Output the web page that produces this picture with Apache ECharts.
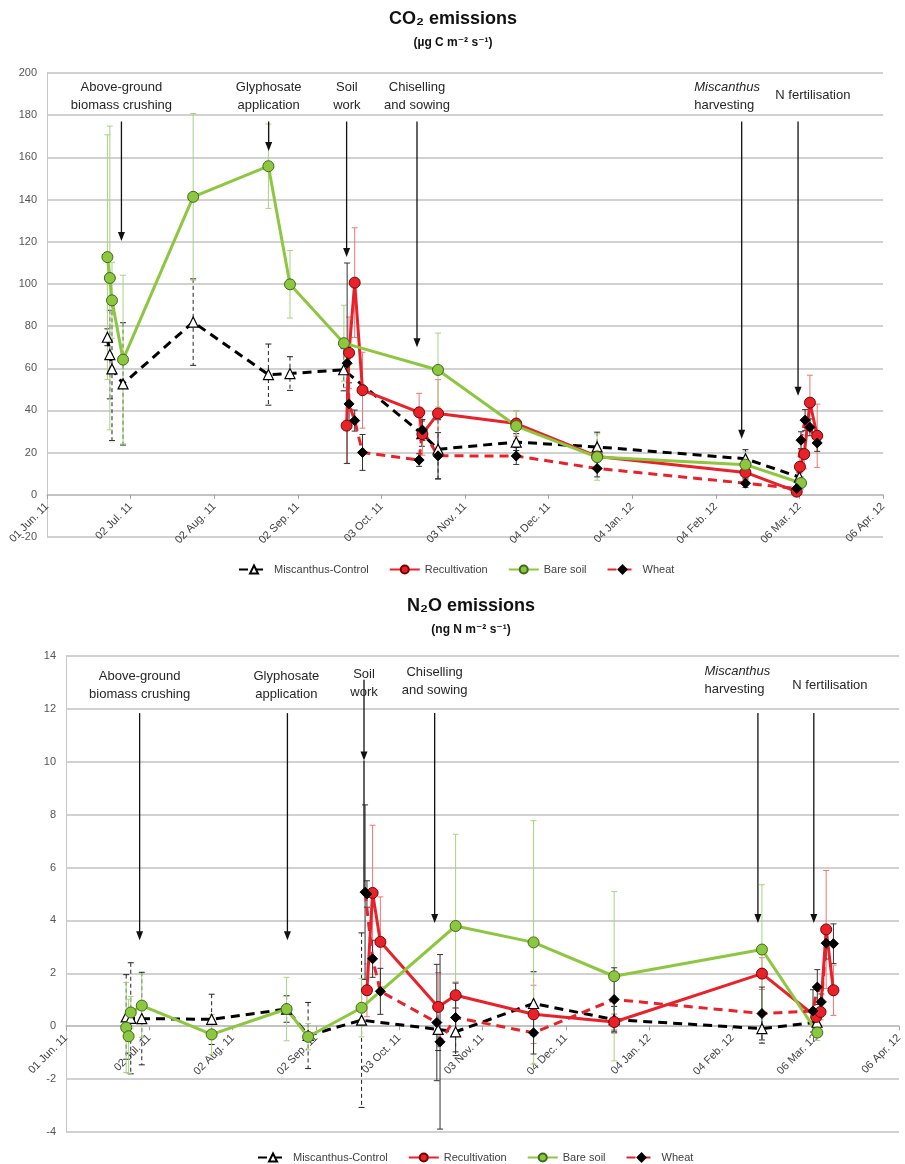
<!DOCTYPE html>
<html><head><meta charset="utf-8">
<script src="https://cdn.jsdelivr.net/npm/echarts@6/dist/echarts.min.js"></script>
<style>html,body{margin:0;padding:0;background:#fff}#c{width:905px;height:1164px}</style>
</head><body><div id="c"></div>
<script>
// x values: days counted from 01 Jun. 2011
const tickLabels = ['01 Jun. 11','02 Jul. 11','02 Aug. 11','02 Sep. 11','03 Oct. 11','03 Nov. 11','04 Dec. 11','04 Jan. 12','04 Feb. 12','06 Mar. 12','06 Apr. 12'];
const seriesNames = ['Miscanthus-Control','Recultivation','Bare soil','Wheat'];

// ---- CO2 emissions (µg C m-2 s-1) ----
const co2MiscDays = [22.4,23.3,24.1,28.2,54.2,82.1,90.1,110,139,145,174,204,259,279];
const co2MiscVals = [74.7,66.5,59.7,52.6,81.9,57.0,57.5,59.3,29,21.6,25,22.7,17.1,8.4];
const co2MiscErr  = [4,21,34,29,20.5,14.5,8,10,6,14,4,7,4.3,2];

const co2RecDays = [111.1,112,114.1,117,138,139.2,145,174,204,259,278,279.2,280.8,282.9,285.6];
const co2RecVals = [32.8,67.3,100.6,49.6,39.1,28.8,38.6,33.8,18.2,10.6,1.5,13.3,19.3,43.7,28];
const co2RecErr  = [18,17,26,18,9,10,16,6,5,3,1,5,7,13,15];

const co2BareDays = [22.4,23.3,24.1,28.2,54.2,82.1,90.1,110.1,145,174,204,259,279.6];
const co2BareVals = [112.7,102.8,92.2,64.1,141.3,155.8,99.8,71.9,59.2,32.6,17.9,14.3,5.6];
const co2BareErr  = [58,72,18,40,39.5,20,16,18,17.5,7,11,6,3];

const co2WheatDays = [111.3,112,114.1,117,138,139.2,145,174,204,259,278,279.6,281.1,282.9,285.6];
const co2WheatVals = [62.4,43.1,35.2,20.1,16.5,30.7,18.5,18.4,12.5,5.5,3.0,25.9,35.4,32,24.6];
const co2WheatErr  = [47.5,10,5,8.5,3,5,11,4,4,2,1,4,5,4,4];

// ---- N2O emissions (ng N m-2 s-1) ----
const n2oMiscDays = [22.4,24.1,28.2,54.2,82.1,90.1,110,138.5,145,174,204,259,279.5];
const n2oMiscVals = [0.35,0.3,0.29,0.26,0.65,-0.35,0.23,-0.12,-0.21,0.86,0.25,-0.09,0.15];
const n2oMiscErr  = [1.6,2.1,1.75,0.95,0.5,1.25,3.3,0.8,0.9,1.2,0.5,0.55,0.4];

const n2oRecDays = [112,114.1,117,138.5,145,174,204,259,279.2,280.8,282.9,285.6];
const n2oRecVals = [1.36,5.04,3.19,0.73,1.17,0.45,0.16,1.99,0.35,0.54,3.66,1.36];
const n2oRecErr  = [1.0,2.56,1.7,1.3,0.5,1.1,0.3,0.6,0.3,0.3,2.23,0.95];

const n2oBareDays = [22.4,23.3,24.1,28.2,54.2,82.1,90.1,110,145,174,204,259,279.6];
const n2oBareVals = [-0.05,-0.38,0.52,0.78,-0.31,0.65,-0.40,0.70,3.79,3.17,1.89,2.90,-0.24];
const n2oBareErr  = [1.7,1.4,0.6,1.2,0.75,1.2,0.5,1.1,3.47,4.6,3.2,2.45,0.3];

const n2oWheatDays = [111.3,112,114.1,117,138,139.2,145,174,204,259,278,279.6,281.1,282.9,285.6];
const n2oWheatVals = [5.07,5.0,2.55,1.32,0.14,-0.59,0.33,-0.25,1.01,0.48,0.58,1.48,0.92,3.14,3.12];
const n2oWheatErr  = [3.3,0.5,0.7,0.87,2.2,3.3,1.3,0.8,1.2,1.0,0.8,0.66,0.3,0.6,0.75];

// ---- management events (day of event) ----
const eventLabels = ['Above-ground\nbiomass crushing','Glyphosate\napplication','Soil\nwork','Chiselling\nand sowing','{i|Miscanthus}\nharvesting','N fertilisation'];
const co2EventDays = [27.6,82.2,111.1,137.2,257.6,278.5];
const n2oEventDays = [27.4,82.4,110.9,137.2,257.5,278.3];

// ---------------- layout / styles ----------------
const FONT = '"Liberation Sans","DejaVu Sans",Arial,sans-serif';
const STY = {
  'Miscanthus-Control': {symbol:'triangle', size:10, item:{color:'#ffffff', borderColor:'#000', borderWidth:1.2}, line:{color:'#000', width:3, type:[9,6]}, err:'#222', errDash:[4,3]},
  'Recultivation': {symbol:'circle', size:11, item:{color:'#e8222a', borderColor:'#7a0000', borderWidth:1}, line:{color:'#e8222a', width:3}, err:'#f07575', errDash:null},
  'Bare soil': {symbol:'circle', size:11, item:{color:'#8dc63f', borderColor:'#3d6b1a', borderWidth:1}, line:{color:'#8dc63f', width:3}, err:'#a9d283', errDash:null},
  'Wheat': {symbol:'diamond', size:10, item:{color:'#000', borderColor:'#000', borderWidth:1}, line:{color:'#e8222a', width:3, type:[9,6]}, err:'#333', errDash:null}
};

function lineSeries(name, gi, days, vals){
  const s = STY[name];
  return {type:'line', name, xAxisIndex:gi, yAxisIndex:gi, z:3, symbol:s.symbol, symbolSize:s.size,
    showSymbol:true, showAllSymbol:true, itemStyle:s.item, lineStyle:s.line, animation:false,
    emphasis:{disabled:true}, data: days.map((d,i)=>[d, vals[i]])};
}
function errSeries(name, gi, days, vals, errs){
  const s = STY[name];
  return {type:'custom', xAxisIndex:gi, yAxisIndex:gi, z:2, silent:true, animation:false,
    encode:{x:0,y:1},
    data: days.map((d,i)=>[d, vals[i], errs[i]]),
    renderItem:(p, api)=>{
      const x=api.value(0), y=api.value(1), e=api.value(2);
      const t=api.coord([x,y+e]), b=api.coord([x,y-e]);
      const w=3;
      return {type:'group', children:[
        {type:'line', shape:{x1:t[0],y1:t[1],x2:b[0],y2:b[1]}, style:{stroke:s.err, lineWidth:1, lineDash:s.errDash}},
        {type:'line', shape:{x1:t[0]-w,y1:t[1],x2:t[0]+w,y2:t[1]}, style:{stroke:s.err, lineWidth:1}},
        {type:'line', shape:{x1:b[0]-w,y1:b[1],x2:b[0]+w,y2:b[1]}, style:{stroke:s.err, lineWidth:1}}
      ]};
    }};
}
// arrows: [day, startValue, tipValue, extendTo]
function arrowSeries(gi, rows){
  return {type:'custom', xAxisIndex:gi, yAxisIndex:gi, z:5, silent:true, animation:false,
    encode:{x:0,y:1}, data: rows,
    renderItem:(p, api)=>{
      const d=api.value(0), a=api.coord([d,api.value(1)]), t=api.coord([d,api.value(2)]);
      const ext=api.value(3);
      const ch=[{type:'line', shape:{x1:a[0],y1:a[1],x2:t[0],y2:t[1]-4}, style:{stroke:'#111', lineWidth:1.3}},
        {type:'polygon', shape:{points:[[t[0]-3.5,t[1]-9],[t[0]+3.5,t[1]-9],[t[0],t[1]]]}, style:{fill:'#111'}}];
      if(!isNaN(ext)){ const e=api.coord([d,ext]); ch.push({type:'line', shape:{x1:t[0],y1:t[1],x2:e[0],y2:e[1]}, style:{stroke:'#111', lineWidth:1.3}}); }
      return {type:'group', children:ch};
    }};
}
// notes: [day, value, labelIndex, alignLeft]
function noteSeries(gi, rows){
  return {type:'custom', xAxisIndex:gi, yAxisIndex:gi, z:5, silent:true, animation:false,
    encode:{x:0,y:1}, data: rows,
    renderItem:(p, api)=>{
      const c=api.coord([api.value(0),api.value(1)]);
      const left = api.value(3)===1;
      return {type:'text', x:c[0], y:c[1], style:{text:eventLabels[api.value(2)], fill:'#262626',
        fontSize:13, fontFamily:FONT, lineHeight:18, align:left?'left':'center', verticalAlign:'middle',
        rich:{i:{fontStyle:'italic', fontSize:13, fontFamily:FONT, lineHeight:18, fill:'#262626'}}}};
    }};
}

// axis sits on the zero line: offset moves it up from the grid bottom
function xAxis(gi, zeroOffset){
  return {type:'value', gridIndex:gi, min:0, max:310, interval:31, position:'bottom', offset:zeroOffset,
    axisLine:{show:true, onZero:false, lineStyle:{color:'#bdbdbd', width:1.5}},
    axisTick:{show:true, length:4, lineStyle:{color:'#a0a0a0'}},
    splitLine:{show:false},
    axisLabel:{rotate:45, margin:10, fontSize:11, color:'#404040', fontFamily:FONT, interval:0,
      showMinLabel:true, showMaxLabel:true, formatter:(v)=>tickLabels[Math.round(v/31)]}};
}
function yAxis(gi, min, max, step){
  return {type:'value', gridIndex:gi, min, max, interval:step,
    axisLine:{show:true, lineStyle:{color:'#c8c8c8', width:1}},
    axisTick:{show:false},
    splitLine:{show:true, lineStyle:{color:'#c2c2c2', width:1.6}},
    axisLabel:{fontSize:11, color:'#555', fontFamily:FONT, margin:10}};
}

const legendCommon = {itemWidth:30, itemHeight:10, itemGap:20, data:seriesNames,
  textStyle:{fontSize:11, color:'#404040', fontFamily:FONT}, selectedMode:false};

const option = {
  animation:false,
  backgroundColor:'#ffffff',
  grid:[{left:47, top:73, width:836, height:464}, {left:66, top:656, width:836, height:476}],
  xAxis:[xAxis(0, -464*20/220), xAxis(1, -476*4/18)],
  yAxis:[yAxis(0,-20,200,20), yAxis(1,-4,14,2)],
  legend:[Object.assign({left:233, top:559}, legendCommon), Object.assign({left:252, top:1147}, legendCommon)],
  graphic:[
    {type:'text', x:453, y:19, style:{text:'CO\u2082 emissions', font:'bold 18px '+FONT, fill:'#111', align:'center', verticalAlign:'middle'}},
    {type:'text', x:453, y:43, style:{text:'(\u00b5g C m\u207b\u00b2 s\u207b\u00b9)', font:'bold 12px '+FONT, fill:'#111', align:'center', verticalAlign:'middle'}},
    {type:'text', x:471, y:606, style:{text:'N\u2082O emissions', font:'bold 18px '+FONT, fill:'#111', align:'center', verticalAlign:'middle'}},
    {type:'text', x:471, y:630, style:{text:'(ng N m\u207b\u00b2 s\u207b\u00b9)', font:'bold 12px '+FONT, fill:'#111', align:'center', verticalAlign:'middle'}}
  ],
  series:[
    errSeries('Miscanthus-Control',0,co2MiscDays,co2MiscVals,co2MiscErr),
    errSeries('Recultivation',0,co2RecDays,co2RecVals,co2RecErr),
    errSeries('Bare soil',0,co2BareDays,co2BareVals,co2BareErr),
    errSeries('Wheat',0,co2WheatDays,co2WheatVals,co2WheatErr),
    lineSeries('Miscanthus-Control',0,co2MiscDays,co2MiscVals),
    lineSeries('Recultivation',0,co2RecDays,co2RecVals),
    lineSeries('Bare soil',0,co2BareDays,co2BareVals),
    lineSeries('Wheat',0,co2WheatDays,co2WheatVals),
    arrowSeries(0, co2EventDays.map((d,i)=>[d, 177, [120.3,163,112.7,70,26.6,47][i], NaN])),
    noteSeries(0, co2EventDays.map((d,i)=>[
      [27.6,82.2,111.2,137.2,240,284][i], i===5?189.6:188.7, i, i===4?1:0])),

    errSeries('Miscanthus-Control',1,n2oMiscDays,n2oMiscVals,n2oMiscErr),
    errSeries('Recultivation',1,n2oRecDays,n2oRecVals,n2oRecErr),
    errSeries('Bare soil',1,n2oBareDays,n2oBareVals,n2oBareErr),
    errSeries('Wheat',1,n2oWheatDays,n2oWheatVals,n2oWheatErr),
    lineSeries('Miscanthus-Control',1,n2oMiscDays,n2oMiscVals),
    lineSeries('Recultivation',1,n2oRecDays,n2oRecVals),
    lineSeries('Bare soil',1,n2oBareDays,n2oBareVals),
    lineSeries('Wheat',1,n2oWheatDays,n2oWheatVals),
    arrowSeries(1, n2oEventDays.map((d,i)=>[d, i===2?13.1:11.84, [3.25,3.25,10.05,3.9,3.9,3.9][i], i===2?5.1:NaN])),
    noteSeries(1, n2oEventDays.map((d,i)=>[
      [27.4,82,110.9,137.2,237.6,284.3][i], [12.9,12.9,12.97,13.03,13.08,12.88][i], i, i===4?1:0]))
  ]
};
const chart = echarts.init(document.getElementById('c'), null, {renderer:'canvas'});
chart.setOption(option);
</script>
</body></html>
